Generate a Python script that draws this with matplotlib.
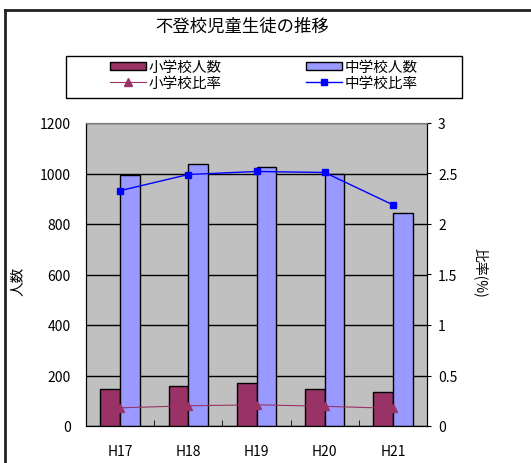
import matplotlib
matplotlib.use("Agg")
import matplotlib.pyplot as plt
from matplotlib.patches import Patch, Rectangle
from matplotlib.lines import Line2D
import numpy as np

plt.rcParams['font.family'] = ['Noto Sans CJK JP', 'DejaVu Sans']

categories = ["H17", "H18", "H19", "H20", "H21"]
elem_counts = [145, 159, 171, 145, 135]
junior_counts = [995, 1039, 1024, 999, 843]
elem_ratio = [0.18, 0.20, 0.21, 0.195, 0.175]
junior_ratio = [2.33, 2.49, 2.52, 2.51, 2.19]

title = "不登校児童生徒の推移"
label_elem_cnt = "小学校人数"
label_jr_cnt = "中学校人数"
label_elem_ratio = "小学校比率"
label_jr_ratio = "中学校比率"

c_elem = "#993366"
c_jr = "#9999FF"
c_line_jr = "#0000FF"

W, H = 531, 464
fig = plt.figure(figsize=(W/100, H/100), dpi=100)
ax = fig.add_axes([86/W, 1-427/H, 341/W, 303/H])
ax.set_facecolor("#C0C0C0")

x = np.arange(len(categories))
bw = 0.29
ax.bar(x - bw, elem_counts, width=bw, align='edge', color=c_elem, edgecolor='black', linewidth=1, zorder=3)
ax.bar(x, junior_counts, width=bw, align='edge', color=c_jr, edgecolor='black', linewidth=1, zorder=3)
ax.set_xlim(-0.5, len(categories) - 0.5)
ax.set_ylim(0, 1200)
ax.set_yticks(range(0, 1201, 200))
ax.yaxis.grid(True, color='black', linewidth=1, zorder=1)
ax.set_axisbelow(True)
ax.set_xticks(x)
ax.set_xticklabels(categories, fontsize=10)
ax.tick_params(axis='x', length=0, pad=13)
ax.set_xticks(np.arange(0.5, len(categories) - 0.5, 1), minor=True)
ax.tick_params(axis='x', which='minor', direction='in', length=4, color='black')
ax.tick_params(axis='y', labelsize=10, length=0, pad=11)
ax.set_ylabel("人数", fontsize=10.5, va='center')
ax.yaxis.set_label_coords(-0.199, 0.48)
for s in ['left', 'bottom']:
    ax.spines[s].set_color('black')
ax.spines['top'].set_color('#808080')

ax2 = ax.twinx()
ax2.plot(x, elem_ratio, color=c_elem, linewidth=0.8, marker='^', markersize=6,
         markerfacecolor=c_elem, markeredgecolor=c_elem, zorder=5)
ax2.plot(x, junior_ratio, color=c_line_jr, linewidth=1, marker='s', markersize=5,
         markerfacecolor=c_line_jr, markeredgecolor=c_line_jr, zorder=5)
ax2.set_ylim(0, 3)
ax2.set_yticks([0, 0.5, 1, 1.5, 2, 2.5, 3])
ax2.set_yticklabels(["0", "0.5", "1", "1.5", "2", "2.5", "3"])
ax2.tick_params(axis='y', labelsize=10, length=3, direction='out', pad=5)
ax2.set_ylabel("比率(%)", fontsize=10, rotation=270, va='center')
ax2.yaxis.set_label_coords(1.158, 0.51)
ax2.spines['right'].set_color('black')
ax2.spines['top'].set_color('#808080')

fig.text(242/W, 1-27/H, title, fontsize=12.5, ha='center', va='center')

handles = [
    Patch(facecolor=c_elem, edgecolor='black', linewidth=1),
    Line2D([0], [0], color=c_elem, linewidth=0.8, marker='^', markersize=6),
    Patch(facecolor=c_jr, edgecolor='black', linewidth=1),
    Line2D([0], [0], color=c_line_jr, linewidth=1, marker='s', markersize=5),
]
labels = [label_elem_cnt, label_elem_ratio, label_jr_cnt, label_jr_ratio]
leg = fig.legend(handles, labels, ncol=2, loc='upper left', bbox_to_anchor=(110/W, 1-61/H),
                 frameon=False, fontsize=10.5,
                 handlelength=2.5, handleheight=0.5, handletextpad=0.15, columnspacing=5.75,
                 labelspacing=0.12, borderpad=0, borderaxespad=0)
fig.add_artist(Rectangle((66/W, 1-99/H), 396/W, 42/H, transform=fig.transFigure,
                         fill=False, edgecolor='black', linewidth=1))

fig.add_artist(Line2D([5/W, 5/W], [0, 1-11/H], transform=fig.transFigure, color='#222222', linewidth=2))
fig.add_artist(Line2D([5/W, 1], [1-11/H, 1-11/H], transform=fig.transFigure, color='#222222', linewidth=2))

fig.savefig("out.png", dpi=100)
